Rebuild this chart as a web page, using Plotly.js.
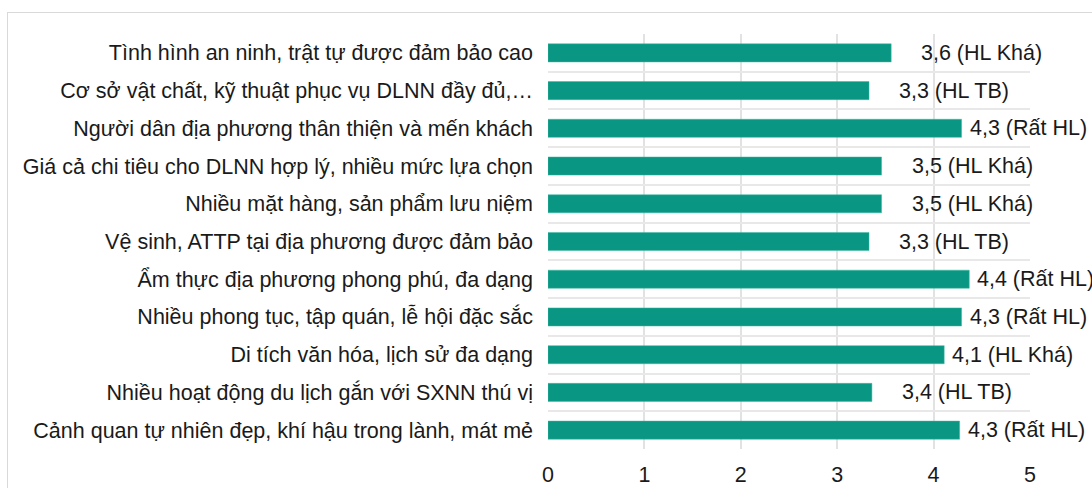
<!DOCTYPE html>
<html>
<head>
<meta charset="utf-8">
<script src="https://cdn.plot.ly/plotly-3.0.1.min.js"></script>
<style>
html,body{margin:0;padding:0;background:#fff;overflow:hidden;}
#frame{position:absolute;left:7px;top:12px;width:1200px;height:600px;border:1.5px solid #d9d9d9;box-sizing:border-box;}
#chart{position:absolute;left:0;top:0;width:1092px;height:488px;}
</style>
</head>
<body>
<div id="frame"></div>
<div id="chart"></div>
<script>
// categories, top to bottom
const categories = [
  "Tình hình an ninh, trật tự được đảm bảo cao",
  "Cơ sở vật chất, kỹ thuật phục vụ DLNN đầy đủ,…",
  "Người dân địa phương thân thiện và mến khách",
  "Giá cả chi tiêu cho DLNN hợp lý, nhiều mức lựa chọn",
  "Nhiều mặt hàng, sản phẩm lưu niệm",
  "Vệ sinh, ATTP tại địa phương được đảm bảo",
  "Ẩm thực địa phương phong phú, đa dạng",
  "Nhiều phong tục, tập quán, lễ hội đặc sắc",
  "Di tích văn hóa, lịch sử đa dạng",
  "Nhiều hoạt động du lịch gắn với SXNN thú vị",
  "Cảnh quan tự nhiên đẹp, khí hậu trong lành, mát mẻ"
];
const scores = [3.56, 3.33, 4.29, 3.46, 3.46, 3.33, 4.37, 4.29, 4.11, 3.36, 4.27];
const labels = [
  "3,6 (HL Khá)", "3,3 (HL TB)", "4,3 (Rất HL)", "3,5 (HL Khá)", "3,5 (HL Khá)",
  "3,3 (HL TB)", "4,4 (Rất HL)", "4,3 (Rất HL)", "4,1 (HL Khá)", "3,4 (HL TB)", "4,3 (Rất HL)"
];
const xTicks = [0, 1, 2, 3, 4, 5];

const font = {family: "Liberation Sans, Arial, sans-serif", size: 21.5, color: "#1a1a1a"};

const annotations = categories.map((c, i) => ({
  x: scores[i], y: c, xref: "x", yref: "y",
  text: labels[i], showarrow: false, xanchor: "left", yanchor: "middle",
  xshift: scores[i] > 4 ? 6 : 28,
  font: font
}));

Plotly.newPlot("chart", [{
  type: "bar", orientation: "h",
  x: scores, y: categories,
  marker: {color: "#099783", line: {color: "#3fb8a3", width: 0.5}},
  hoverinfo: "none"
}], {
  width: 1092, height: 488,
  margin: {l: 548, r: 62, t: 34, b: 39},
  paper_bgcolor: "rgba(0,0,0,0)", plot_bgcolor: "rgba(0,0,0,0)",
  bargap: 0.52,
  showlegend: false,
  font: font,
  xaxis: {
    range: [0, 5], tickvals: xTicks, ticktext: xTicks.map(String),
    showgrid: true, gridcolor: "#e2e2e2", gridwidth: 2,
    zeroline: false, showline: false, ticks: "", ticklabelstandoff: 10,
    tickfont: font, fixedrange: true
  },
  yaxis: {
    autorange: "reversed", type: "category",
    tickson: "boundaries", showgrid: true, gridcolor: "#e8e8e8", gridwidth: 2,
    showline: false, ticks: "", ticklabelstandoff: 14,
    tickfont: font, fixedrange: true
  },
  annotations: annotations
}, {displayModeBar: false, staticPlot: true});
</script>
</body>
</html>
